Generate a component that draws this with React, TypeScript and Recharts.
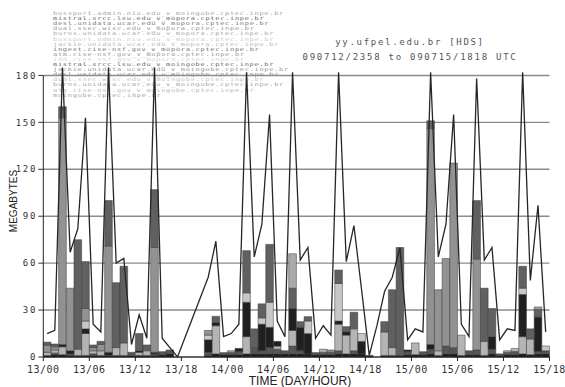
import React from 'react';
import { ComposedChart, Bar, Line, XAxis, YAxis, CartesianGrid, ReferenceLine } from 'recharts';

// hour index 0..65 = 13/00 .. 15/17 (values in megabytes)
const hours: number[] = Array.from({ length: 66 }, (_, i) => i);
const tickHours = [0, 6, 12, 18, 24, 30, 36, 42, 48, 54, 60, 66];
const tickLabels = ['13/00', '13/06', '13/12', '13/18', '14/00', '14/06', '14/12', '14/18', '15/00', '15/06', '15/12', '15/18'];
const yTicks = [0, 30, 60, 90, 120, 150, 180];

const seriesA = [1, 1.5, 1.5, 1, 1, 1, 1, 1, 1, 1, 1, 1, 1, 1, 1, 1.5, 2, 0, 0, 0, 0, 1, 2, 1.5, 1.5, 1.5, 2, 2, 2, 2, 2, 2, 2, 2, 2, 1.5, 1.5, 1.5, 2, 2, 2, 2, 1, 0, 1, 1, 1, 1.5, 1.5, 1.5, 2, 1, 2, 2, 1, 1.5, 1.5, 1, 2, 1, 1.5, 1.5, 2, 1.5, 2, 2];
const seriesB = [0, 1, 0, 1, 0, 0, 1, 0, 0, 0, 0, 2, 0, 0, 1, 1.9, 2.5, 0, 0, 0, 0, 2, 0, 1.3, 1.5, 2, 0, 4, 2, 4, 3, 2, 5, 2, 0, 1.3, 1.5, 1.5, 2, 0, 2, 0, 0, 0, 0, 0, 0, 2, 0, 1.9, 3, 0, 5, 4, 0, 2.5, 3, 0, 3, 1, 1.5, 2, 0, 0, 1.5, 2];
const seriesC = [2, 2, 5, 0, 4, 14, 2, 3, 0, 5, 8, 0, 2, 3, 0, 0, 0, 0, 0, 0, 0, 0, 18, 0, 1, 0, 11, 0, 0, 0, 2, 0, 10, 0, 0, 0, 2, 0, 17, 12, 14, 0, 0, 0, 15, 5, 0, 0, 7.5, 0, 0, 3, 0, 0, 13, 0, 0, 9, 0, 0, 1, 2, 11, 10, 0, 0];
const seriesD = [0, 0, 1.5, 2, 0, 3, 0, 0, 2, 0, 0, 0, 1, 0, 1, 0, 0, 0, 0, 0, 0, 8, 2, 0, 0, 2, 22, 0, 17, 13, 3, 0, 14, 15, 13, 0, 0, 0, 2, 2, 0, 8, 0, 0, 0, 0, 0, 1, 0, 0, 3, 0, 0, 0, 0, 0, 0, 0, 8, 0, 0, 0, 27, 0, 22, 0];
const seriesE = [0, 0, 0, 0, 0, 5, 0, 0, 0, 0, 0, 0, 0, 0, 0, 0, 0, 0, 0, 0, 0, 3, 0, 0, 0, 0, 6, 0, 4, 16, 0, 0, 0, 0, 8, 0, 0, 0, 24, 0, 0, 5, 0, 0, 0, 0, 0, 0, 0, 0, 0, 0, 0, 0, 0, 0, 0, 0, 0, 0, 0, 0, 4, 0, 0, 3];
const seriesF = [4.5, 2, 145, 40, 0, 8, 2, 4, 68, 0, 0, 0, 0, 0, 67, 0, 0, 0, 0, 0, 0, 3, 0, 0, 0, 0, 0, 0, 0, 0, 0, 0, 0, 0, 0, 0, 0, 1.5, 0, 0, 0, 0, 0, 0, 0, 0, 0, 0, 0, 0, 138, 39, 56, 118, 0, 0, 58.2, 0, 0, 0, 0, 0, 0, 0, 0, 0];
const seriesG = [2, 1.8, 7, 0, 70, 30, 1.7, 2, 29, 41.5, 49, 0, 11, 3.7, 37, 0, 0, 0, 0, 0, 0, 0, 4, 0, 0, 0, 27, 12, 9, 37, 0, 0, 13, 3.6, 2.8, 0, 0, 0, 8.6, 3.4, 10.6, 0, 0, 0, 6.6, 37, 69, 0, 0, 0, 5, 0, 0, 0, 0, 0, 37.3, 34, 18, 0, 0, 0, 14, 6.5, 5, 0];
const seriesH = [0, 0, 0, 0, 0, 0, 0, 0, 0, 0, 0, 0, 0, 0, 0, 0, 0, 0, 0, 0, 0, 0, 0, 0, 0, 0, 0, 0, 0, 0, 0, 0, 22, 0, 0, 0, 0, 0, 0, 0, 0, 0, 0, 0, 0, 0, 0, 0, 0, 0, 0, 0, 0, 0, 0, 0, 0, 0, 0, 0, 0, 0, 0, 0, 1.5, 0];
const lineValues: (number | null)[] = [15, 17, 185, 67, 82, 153, 21, 16, 185, 60, 63, 8, 27, 12, 185, 12, 6, 0, null, null, null, 51, 74, 13, 15, 21, 182, 64, 85, 155, 23, 13, 182, 62, 70, 12, 20, 14, 182, 61, 84, 43, 1, 20, 42, 51, 70, 11, 18, 16, 182, 64, 85, 155, 21, 13, 178, 62, 70, 11, 18, 17, 182, 49, 97, 16];

const hosts = [
  'bossport.admin.niu.edu_v_moingobe.cptec.inpe.br',
  'mistral.srcc.lsu.edu_v_mopora.cptec.inpe.br',
  'desl.unidata.ucar.edu_v_mopora.cptec.inpe.br',
  'dual.ssec.wisc.edu_v_mopora.cptec.inpe.br',
  'burns.unidata.ucar.edu_v_mopora.cptec.inpe.br',
  'bossport.admin.niu.edu_v_mopora.cptec.inpe.br',
  'jackie.unidata.ucar.edu_v_mopora.cptec.inpe.br',
  'ingest.cise-nsf.gov_v_mopora.cptec.inpe.br',
  'atm.cise-nsf.gov_v_mopora.cptec.inpe.br',
  'idd.cise-nsf.gov_v_mopora.cptec.inpe.br',
  'mistral.srcc.lsu.edu_v_moingobe.cptec.inpe.br',
  'jackie.unidata.ucar.edu_v_moingobe.cptec.inpe.br',
  'desl.unidata.ucar.edu_v_moingobe.cptec.inpe.br',
  'dual.ssec.wisc.edu_v_moingobe.cptec.inpe.br',
  'burns.unidata.ucar.edu_v_moingobe.cptec.inpe.br',
  'atm.cise-nsf.gov_v_moingobe.cptec.inpe.br',
  'moingobe.cptec.inpe.br',
];
const hostColors = ['#a0a0a0', '#5e5e5e', '#707070', '#929292', '#a4a4a4', '#c8c8c8', '#b4b4b4', '#6c6c6c', '#939393', '#d2d2d2', '#5e5e5e', '#909090', '#808080', '#c0c0c0', '#a0a0a0', '#b4b4b4', '#9c9c9c'];

const title1 = 'yy.ufpel.edu.br [HDS]';
const title2 = '090712/2358 to 090715/1818 UTC';

const keys = ['a', 'b', 'c', 'd', 'e', 'f', 'g', 'h'];
const seriesList = [seriesA, seriesB, seriesC, seriesD, seriesE, seriesF, seriesG, seriesH];
const fills = ['#1c1c1c', '#555555', '#b4b4b4', '#202020', '#c8c8c8', '#929292', '#606060', '#aaaaaa'];

const data = hours.map((h, i) => {
  const row: Record<string, number | null> = { t: h + 0.5, total: lineValues[i] };
  keys.forEach((k, j) => {
    row[k] = seriesList[j][i];
  });
  return row;
});

export default function App() {
  return (
    <div style={{ position: 'absolute', left: 0, top: 0, width: 565, height: 387, background: '#fff' }}>
      <svg width={565} height={387} style={{ position: 'absolute', left: 0, top: 0 }}>
        {hosts.map((h, k) => (
          <text
            key={k}
            transform={`translate(53, ${15 + k * 5.1}) scale(1, 0.72)`}
            fontFamily="DejaVu Sans Mono"
            fontSize={7}
            textLength={h.length * 4.9}
            lengthAdjust="spacing"
            fill={hostColors[k]}
          >
            {h}
          </text>
        ))}
        <text x={410} y={44.5} textAnchor="middle" fontFamily="DejaVu Sans Mono" fontSize={9} letterSpacing={1.7} fill="#555">
          {title1}
        </text>
        <text x={410} y={60} textAnchor="middle" fontFamily="DejaVu Sans Mono" fontSize={9} letterSpacing={1.75} fill="#555">
          {title2}
        </text>
        <text transform="translate(17, 201) rotate(-90)" textAnchor="middle" fontFamily="Liberation Sans" fontSize={10} fill="#222">
          MEGABYTES
        </text>
        <text x={300} y={385} textAnchor="middle" fontFamily="Liberation Sans" fontSize={12} fill="#222">
          TIME (DAY/HOUR)
        </text>
      </svg>
      <div style={{ position: 'absolute', left: 0, top: 0 }}>
        <ComposedChart
          width={565}
          height={387}
          data={data}
          margin={{ top: 59.8, right: 15.5, bottom: 0, left: 0 }}
        >
          <CartesianGrid
            vertical={false}
            horizontalValues={yTicks}
            stroke="#8c8c8c"
            strokeWidth={1.4}
          />
          <XAxis
            dataKey="t"
            type="number"
            domain={[0, 66]}
            ticks={tickHours}
            interval={0}
            tickFormatter={(v: number) => tickLabels[Math.round(v / 6)]}
            height={30}
            tickSize={4}
            tickMargin={5}
            stroke="#222"
            tick={{ fontSize: 10, fontFamily: 'DejaVu Sans Mono', fill: '#333', letterSpacing: 0.5 }}
          />
          <YAxis
            type="number"
            domain={[0, 190]}
            ticks={yTicks}
            interval={0}
            width={43.3}
            tickSize={5}
            tickMargin={1}
            axisLine={false}
            tickLine={{ stroke: '#333' }}
            tick={{ fontSize: 9, fontFamily: 'DejaVu Sans Mono', fill: '#333', letterSpacing: 1.8 }}
          />
          <ReferenceLine segment={[{ x: 0, y: 0 }, { x: 0, y: 180 }]} stroke="#222" ifOverflow="visible" />
          {keys.map((k, j) => (
            <Bar
              key={k}
              dataKey={k}
              stackId="s"
              fill={fills[j]}
              stroke="#3a3a3a"
              strokeWidth={0.5}
              barSize={7.66}
              isAnimationActive={false}
            />
          ))}
          <Line
            dataKey="total"
            type="linear"
            stroke="#262626"
            strokeWidth={1.3}
            dot={false}
            connectNulls
            isAnimationActive={false}
          />
        </ComposedChart>
      </div>
    </div>
  );
}
